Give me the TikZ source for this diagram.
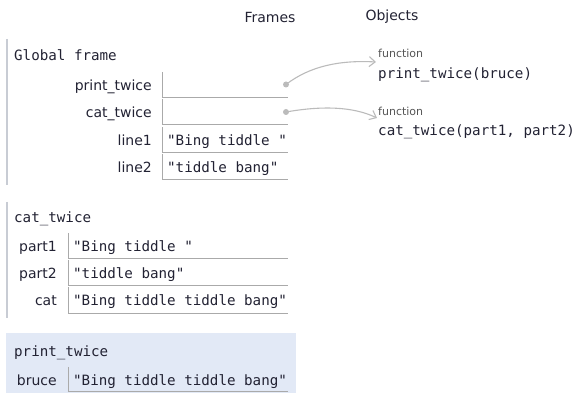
\documentclass[tikz,border=0pt]{standalone}
\usepackage{fontspec}
\setmainfont{DejaVu Sans}
\setsansfont{DejaVu Sans}
\setmonofont{DejaVu Sans Mono}
\usetikzlibrary{arrows.meta}
\definecolor{txt}{HTML}{222233}
\definecolor{boxline}{HTML}{AAAAAA}
\definecolor{bar}{HTML}{C8CCD4}
\definecolor{arr}{HTML}{BBBBBB}
\definecolor{curframe}{HTML}{E2E9F6}
\definecolor{fnlab}{HTML}{555555}
\tikzset{
  x=1pt,y=-1pt,
  hdr/.style={font=\fontsize{14}{16}\selectfont\sffamily,text=txt,inner sep=0,yshift=-2pt},
  fname/.style={font=\fontsize{14.2}{16}\selectfont\ttfamily,text=txt,anchor=mid west,inner sep=0,yshift=-3pt},
  vname/.style={font=\fontsize{14}{16}\selectfont\sffamily,text=txt,anchor=mid east,inner sep=0,yshift=-3pt},
  val/.style={font=\fontsize{14.2}{16}\selectfont\ttfamily,text=txt,anchor=mid west,inner sep=0,yshift=-3pt},
  fnlabel/.style={font=\fontsize{11}{13}\selectfont\sffamily,text=fnlab,anchor=mid west,inner sep=0,yshift=-2pt},
  objtxt/.style={font=\fontsize{14.2}{16}\selectfont\ttfamily,text=txt,anchor=mid west,inner sep=0,yshift=-3pt},
  vbox/.style={draw=boxline,line width=0.9pt},
  framebar/.style={draw=bar,line width=2pt},
  ptr/.style={circle,fill=arr,inner sep=0,minimum size=6pt},
  link/.style={draw=arr,line width=1.1pt,-{Straight Barb[length=6pt,width=10pt]}},
}
\begin{document}
\begin{tikzpicture}
\useasboundingbox (0,0) rectangle (574,393);
% headers
\node[hdr] (hframes) at (270,15) {Frames};
\node[hdr] (hobjects) at (392,15) {Objects};

% Global frame
\draw[framebar] (7,39) -- (7,185);
\node[fname] (gf) at (14,55) {Global frame};
\node[vname] (l1) at (152,84.5) {print\_twice};
\node[vname] (l2) at (152,112) {cat\_twice};
\node[vname] (l3) at (152,139.5) {line1};
\node[vname] (l4) at (152,166.5) {line2};
\draw[vbox] (162,72) -- (162,97) -- (288,97);
\draw[vbox] (162,99) -- (162,124) -- (288,124);
\draw[vbox] (162,127) -- (162,152) -- (288,152);
\draw[vbox] (162,154) -- (162,179) -- (288,179);
\node[ptr] (p1) at (286,84.5) {};
\node[ptr] (p2) at (286,112) {};
\node[val] (v3) at (167,139.5) {"Bing tiddle "};
\node[val] (v4) at (167,166.5) {"tiddle bang"};

% Objects
\node[fnlabel] (fl1) at (378,53) {function};
\node[objtxt] (o1) at (378,73) {print\_twice(bruce)};
\node[fnlabel] (fl2) at (378,111) {function};
\node[objtxt] (o2) at (378,130) {cat\_twice(part1, part2)};
\coordinate (e1) at (376,62);
\coordinate (e2) at (377,118);
\draw[link] (p1.center) .. controls (310,66) and (340,60) .. (e1);
\draw[link] (p2.center) .. controls (320,106) and (352,106) .. (e2);

% cat_twice frame
\draw[framebar] (7,202) -- (7,318);
\node[fname] (cf) at (14,217) {cat\_twice};
\node[vname] (c1) at (57,246) {part1};
\node[vname] (c2) at (57,273) {part2};
\node[vname] (c3) at (57,300) {cat};
\draw[vbox] (68,233) -- (68,258) -- (288,258);
\draw[vbox] (68,260) -- (68,285) -- (288,285);
\draw[vbox] (68,287) -- (68,313) -- (288,313);
\node[val] (cv1) at (73,246) {"Bing tiddle "};
\node[val] (cv2) at (73,273) {"tiddle bang"};
\node[val] (cv3) at (73,300) {"Bing tiddle tiddle bang"};

% print_twice frame (current)
\fill[curframe] (6,333) rectangle (296,393);
\node[fname] (pf) at (14,351) {print\_twice};
\node[vname] (b1) at (57,380) {bruce};
\draw[vbox] (68,367) -- (68,391) -- (288,391);
\node[val] (bv1) at (73,380) {"Bing tiddle tiddle bang"};
\end{tikzpicture}
\end{document}
